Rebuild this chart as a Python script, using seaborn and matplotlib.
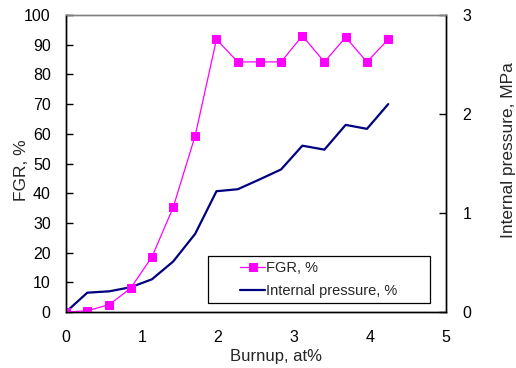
import matplotlib
matplotlib.use("Agg")
import matplotlib.pyplot as plt
from matplotlib.patches import Rectangle
import seaborn as sns
import pandas as pd

burnup = [0.0, 0.28, 0.57, 0.85, 1.13, 1.41, 1.70, 1.98, 2.26, 2.55, 2.83, 3.11, 3.40, 3.68, 3.96, 4.24]
fgr = [0.0, 0.4, 2.5, 8.0, 18.5, 35.2, 59.4, 91.8, 84.2, 84.2, 84.2, 93.0, 84.2, 92.5, 84.2, 91.8]
pressure = [0.0, 0.195, 0.209, 0.25, 0.33, 0.51, 0.79, 1.22, 1.24, 1.34, 1.44, 1.68, 1.64, 1.89, 1.85, 2.10]

x_ticks = [0, 1, 2, 3, 4, 5]
left_ticks = [0, 10, 20, 30, 40, 50, 60, 70, 80, 90, 100]
right_ticks = [0, 1, 2, 3]

df = pd.DataFrame({"burnup": burnup, "fgr": fgr, "pressure": pressure})

sns.set_style("white")
plt.rcParams["font.family"] = ["Liberation Sans", "DejaVu Sans"]
plt.rcParams["font.size"] = 11

fig = plt.figure(figsize=(5.16, 3.68), dpi=100)
ax = fig.add_axes([66 / 516, 1 - 312 / 368, 380 / 516, 297 / 368])
ax2 = ax.twinx()

sns.lineplot(data=df, x="burnup", y="pressure", ax=ax2, color="#000080",
             linewidth=1.6, label="Internal pressure, %", legend=False)
sns.lineplot(data=df, x="burnup", y="fgr", ax=ax, color="#FF00FF",
             linewidth=0.9, marker="s", markersize=5.2, markeredgecolor="#FF00FF",
             label="FGR, %", legend=False)

ax.set_zorder(ax2.get_zorder() + 1)
ax.patch.set_visible(False)

ax.set_xlim(0, 5)
ax.set_ylim(0, 100)
ax2.set_ylim(0, 3)
ax.set_xticks(x_ticks)
ax.set_yticks(left_ticks)
ax2.set_yticks(right_ticks)

for a in (ax, ax2):
    for s in ("left", "bottom", "right"):
        a.spines[s].set_color("black")
        a.spines[s].set_linewidth(1.0)
    a.spines["top"].set_color("#808080")
    a.spines["top"].set_linewidth(1.0)

ax.tick_params(axis="x", direction="in", length=5, width=1, pad=13, labelsize=11.5, colors="black")
ax.tick_params(axis="y", direction="in", length=5, width=1, pad=11, labelsize=11.5, colors="black")
ax2.tick_params(axis="y", direction="in", length=5, width=1, pad=12, labelsize=11.5, colors="black")

ax.set_xlabel("Burnup, at%", fontsize=12)
ax.set_ylabel("FGR, %", fontsize=12.5)
ax2.set_ylabel("Internal pressure, MPa", fontsize=12.5, rotation=90)
ax.xaxis.label.set_verticalalignment("center")
ax.xaxis.set_label_coords((276 - 66) / 380, (312 - 357) / 297)
ax.yaxis.label.set_verticalalignment("center")
ax.yaxis.set_label_coords((21 - 66) / 380, (312 - 170) / 297)
ax2.yaxis.label.set_verticalalignment("center")
ax2.yaxis.set_label_coords((508 - 66) / 380, (312 - 150) / 297)

# legend box
x0, x1 = (208 - 66) / 380, (430 - 66) / 380
y0, y1 = (312 - 303) / 297, (312 - 256) / 297
rect = Rectangle((x0, y0), x1 - x0, y1 - y0, transform=ax.transAxes,
                 facecolor="white", edgecolor="black", linewidth=0.9, zorder=4)
ax.add_patch(rect)
h1, l1 = ax.get_legend_handles_labels()
h2, l2 = ax2.get_legend_handles_labels()
leg = ax.legend(h1 + h2, l1 + l2, loc="center",
                bbox_to_anchor=((x0 + x1) / 2, (y0 + y1) / 2),
                frameon=False, fontsize=10.5, handlelength=1.7,
                handletextpad=0.1, labelspacing=0.65, borderpad=0)
leg.set_zorder(5)

fig.savefig("out.png", dpi=100)
